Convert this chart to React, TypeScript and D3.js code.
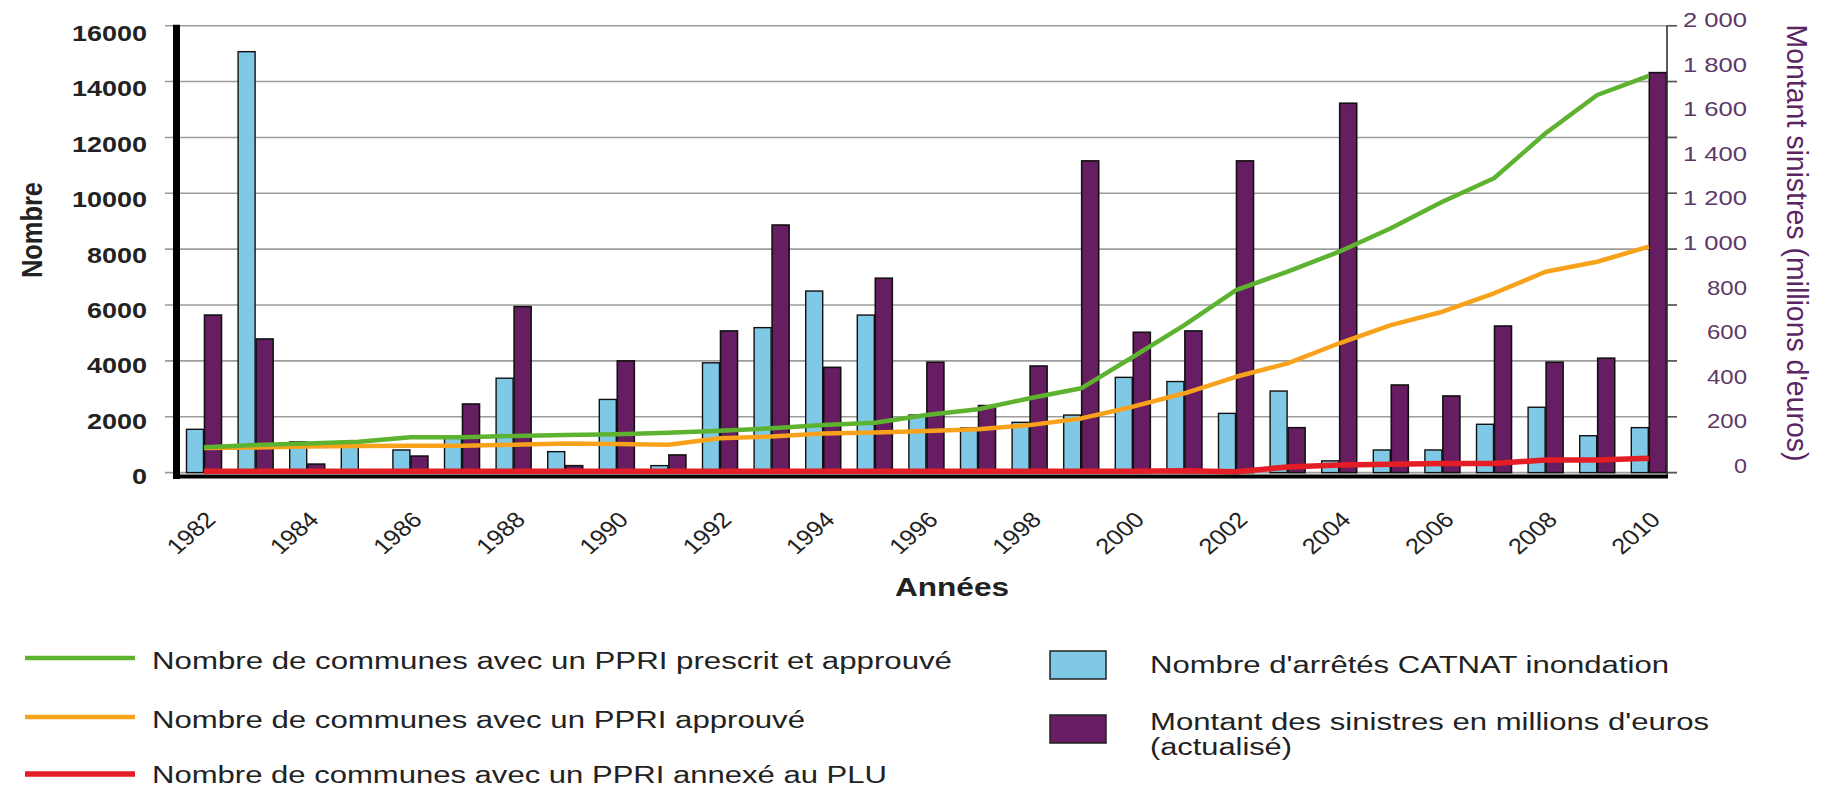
import React from "react";
import * as d3 from "d3";

const years = [1982,1983,1984,1985,1986,1987,1988,1989,1990,1991,1992,1993,1994,1995,1996,1997,1998,1999,2000,2001,2002,2003,2004,2005,2006,2007,2008,2009,2010];
// Nombre d'arrêtés CATNAT inondation (left axis)
const catnat = [1550,15070,1100,1090,810,1250,3380,750,2620,250,3930,5190,6500,5640,2060,1600,1800,2060,3410,3260,2120,2920,420,810,810,1730,2340,1320,1610];
// Montant des sinistres en millions d'euros (right axis)
const montant = [705,598,38,0,74,307,743,31,500,79,634,1108,471,870,494,300,477,1395,628,634,1395,201,1653,392,343,656,494,512,1790];
// Communes avec un PPRI prescrit et approuvé
const pprPrescrit = [906,988,1045,1106,1264,1264,1310,1346,1371,1429,1500,1586,1704,1787,2062,2266,2660,3018,4140,5280,6536,7193,7909,8747,9699,10537,12148,13519,14200];
// Communes avec un PPRI approuvé
const pprApprouve = [880,900,930,950,960,960,1000,1040,1020,1000,1230,1290,1400,1440,1490,1550,1700,1940,2360,2840,3430,3910,4630,5280,5760,6420,7190,7550,8090];
// Communes avec un PPRI annexé au PLU
const pprPlu = [50,50,50,50,50,50,50,50,50,50,50,50,50,50,50,50,50,50,50,70,30,200,270,300,330,330,450,450,510];

const leftTicks = [0,2000,4000,6000,8000,10000,12000,14000,16000];
const rightLabels = [0,200,400,600,800,1000,1200,1400,1600,1800,2000];
const yearLabels = [1982,1984,1986,1988,1990,1992,1994,1996,1998,2000,2002,2004,2006,2008,2010];

const legendLines = [
  { label: "Nombre de communes avec un PPRI prescrit et approuvé", color: "#5db32f" },
  { label: "Nombre de communes avec un PPRI approuvé", color: "#f8a21c" },
  { label: "Nombre de communes avec un PPRI annexé au PLU", color: "#e51d24" },
];

const CYAN = "#7fc8e6";
const PURPLE = "#661d61";
const FONT = "'Liberation Sans', Arial, Helvetica, sans-serif";

function fmtRight(v: number) {
  if (v >= 1000) return `${Math.floor(v / 1000)} ${String(v % 1000).padStart(3, "0")}`;
  return String(v);
}

export default function App() {
  const W = 1825, H = 790;
  const top = 25.7, base = 472.6;
  const axisLeft = 176.5, axisRight = 1667;

  const x = d3.scaleBand<number>().domain(years).range([178.2, 1674.6]).padding(0);
  const yL = d3.scaleLinear().domain([0, 16000]).range([base, top]);
  const yR = d3.scaleLinear().domain([0, 2000]).range([base, top]);
  const leftLabelY = d3.scaleLinear().domain([0, 16000]).range([484, 41]);
  const rightLabelY = d3.scaleLinear().domain([0, 2000]).range([473, 27]);
  const cx = (yr: number) => (x(yr) as number) + x.bandwidth() / 2;
  const barW = 17;

  const lineGen = (vals: number[]) =>
    d3.line<number>().x((_, i) => cx(years[i])).y((v) => yL(v))(vals) as string;

  const lines = [
    { vals: pprApprouve, color: legendLines[1].color, w: 4.5 },
    { vals: pprPrescrit, color: legendLines[0].color, w: 4.5 },
    { vals: pprPlu, color: legendLines[2].color, w: 5.5 },
  ];

  return (
    <svg width={W} height={H} style={{ position: "absolute", left: 0, top: 0, display: "block", background: "#fff" }} fontFamily={FONT}>
      {/* gridlines */}
      {leftTicks.map((t) => (
        <line key={"g" + t} x1={165} x2={1677} y1={yL(t)} y2={yL(t)} stroke="#9c9c9c" strokeWidth={1.6} />
      ))}
      {/* left tick labels */}
      {leftTicks.map((t) => (
        <text key={"lt" + t} x={147} y={leftLabelY(t)} textAnchor="end" fontSize={22} fontWeight="bold" fill="#222"
          textLength={15 * String(t).length} lengthAdjust="spacingAndGlyphs">{String(t)}</text>
      ))}
      {/* right tick labels */}
      {rightLabels.map((t) => {
        const s = fmtRight(t);
        const len = s.length === 5 ? 64 : s.length === 3 ? 40 : 13;
        return (
          <text key={"rt" + t} x={1747} y={rightLabelY(t)} textAnchor="end" fontSize={20} fill="#5e3868"
            textLength={len} lengthAdjust="spacingAndGlyphs">{s}</text>
        );
      })}
      {/* right ticks */}
      {leftTicks.map((t) => (
        <line key={"rtk" + t} x1={axisRight} x2={1677} y1={yL(t)} y2={yL(t)} stroke="#555" strokeWidth={1.5} />
      ))}

      {/* bars */}
      {years.map((yr, i) => (
        <g key={"b" + yr}>
          <rect x={cx(yr) - barW - 0.5} y={yL(catnat[i])} width={barW} height={base - yL(catnat[i])}
            fill={CYAN} stroke="#111" strokeWidth={1.4} />
          {montant[i] > 0 && (
            <rect x={cx(yr) + 0.5} y={yR(montant[i])} width={barW} height={base - yR(montant[i])}
              fill={PURPLE} stroke="#111" strokeWidth={1.6} />
          )}
        </g>
      ))}

      {/* lines */}
      {lines.map((l, i) => (
        <path key={"l" + i} d={lineGen(l.vals)} fill="none" stroke={l.color} strokeWidth={l.w} strokeLinejoin="round" />
      ))}

      {/* axes */}
      <line x1={axisRight} x2={axisRight} y1={top} y2={477} stroke="#333" strokeWidth={1.6} />
      <line x1={axisLeft} x2={axisRight + 1} y1={476.5} y2={476.5} stroke="#000" strokeWidth={4} />
      <line x1={axisLeft} x2={axisLeft} y1={top - 1} y2={479} stroke="#000" strokeWidth={7} />

      {/* year labels */}
      {yearLabels.map((yr) => (
        <text key={"y" + yr} transform={`translate(${cx(yr) + 13},${521}) scale(1.15,1) rotate(-45)`}
          textAnchor="end" fontSize={22} fill="#222">{yr}</text>
      ))}

      {/* axis titles */}
      <text x={952} y={596} textAnchor="middle" fontSize={25} fontWeight="bold" fill="#222"
        textLength={114} lengthAdjust="spacingAndGlyphs">Années</text>
      <text transform={`translate(42,230) scale(1.25,1) rotate(-90)`} textAnchor="middle" fontSize={24}
        fontWeight="bold" fill="#222" textLength={96} lengthAdjust="spacingAndGlyphs">Nombre</text>
      <text transform={`translate(1787,243) scale(1.2,1) rotate(90)`} textAnchor="middle" fontSize={25}
        fill="#5b2463" textLength={437} lengthAdjust="spacingAndGlyphs">Montant sinistres (millions d'euros)</text>

      {/* legend: lines */}
      {legendLines.map((l, i) => {
        const ly = [658, 717, 774][i];
        const tl = [800, 653, 735][i];
        return (
          <g key={"ll" + i}>
            <line x1={25} x2={135} y1={ly} y2={ly} stroke={l.color} strokeWidth={i === 2 ? 5.5 : 4.5} />
            <text x={152} y={ly + (i === 2 ? 9 : 11)} fontSize={23} fill="#222" textLength={tl} lengthAdjust="spacingAndGlyphs">{l.label}</text>
          </g>
        );
      })}
      {/* legend: bars */}
      <rect x={1050} y={651} width={56} height={28} fill={CYAN} stroke="#222" strokeWidth={1.5} />
      <text x={1150} y={673} fontSize={23} fill="#222" textLength={519} lengthAdjust="spacingAndGlyphs">Nombre d'arrêtés CATNAT inondation</text>
      <rect x={1050} y={715} width={56} height={28} fill={PURPLE} stroke="#222" strokeWidth={1.5} />
      <text x={1150} y={730} fontSize={23} fill="#222" textLength={559} lengthAdjust="spacingAndGlyphs">Montant des sinistres en millions d'euros</text>
      <text x={1150} y={755} fontSize={23} fill="#222" textLength={142} lengthAdjust="spacingAndGlyphs">(actualisé)</text>
    </svg>
  );
}
